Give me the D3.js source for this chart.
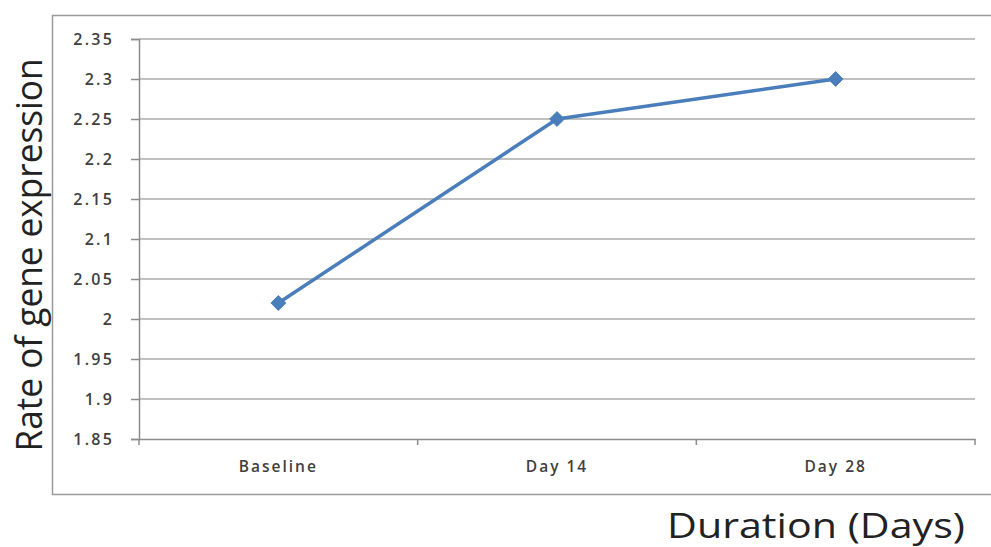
<!DOCTYPE html>
<html>
<head>
<meta charset="utf-8">
<script src="https://cdn.jsdelivr.net/npm/d3@7"></script>
<style>
  html, body { margin: 0; padding: 0; background: #fff; }
  svg { display: block; }
</style>
</head>
<body>
<svg id="chart" width="991" height="547"></svg>
<script>
const categories = ["Baseline", "Day 14", "Day 28"];
const values = [2.02, 2.25, 2.30];
const yTicks = [1.85, 1.9, 1.95, 2, 2.05, 2.1, 2.15, 2.2, 2.25, 2.3, 2.35];
const yTitle = "Rate of gene expression";
const xTitle = "Duration (Days)";

const svg = d3.select("#chart");
const plot = { left: 139, right: 975, top: 39, bottom: 439 };

// outer chart frame
svg.append("rect")
  .attr("x", 52.5).attr("y", 15.5)
  .attr("width", 1000).attr("height", 479)
  .attr("fill", "none").attr("stroke", "#9a9a9a").attr("stroke-width", 1.5);

const x = d3.scaleBand().domain(categories).range([plot.left, plot.right]).padding(0);
const y = d3.scaleLinear().domain([1.85, 2.35]).range([plot.bottom, plot.top]);

// gridlines
svg.append("g").selectAll("line").data(yTicks.slice(1)).join("line")
  .attr("x1", plot.left).attr("x2", plot.right)
  .attr("y1", d => y(d)).attr("y2", d => y(d))
  .attr("stroke", "#c0c0c0").attr("stroke-width", 2.2);

// y axis
const yAxis = svg.append("g").attr("transform", `translate(${plot.left},0)`)
  .call(d3.axisLeft(y).tickValues(yTicks).tickFormat(d => String(d)).tickSize(8).tickPadding(17));
yAxis.select(".domain").attr("stroke", "#8c8c8c").attr("stroke-width", 1.5);
yAxis.selectAll(".tick line").attr("stroke", "#8c8c8c").attr("stroke-width", 1.5);
yAxis.selectAll(".tick text")
  .attr("fill", "#404040").attr("font-family", "'Open Sans', sans-serif")
  .attr("font-size", 16).attr("font-weight", 600).attr("letter-spacing", 2.2);

// x axis
const xAxis = svg.append("g").attr("transform", `translate(0,${plot.bottom})`)
  .call(d3.axisBottom(x).tickSize(0).tickPadding(22));
xAxis.select(".domain").attr("stroke", "#8c8c8c").attr("stroke-width", 1.5);
xAxis.selectAll(".tick text")
  .attr("fill", "#404040").attr("font-family", "'Open Sans', sans-serif")
  .attr("font-size", 15.5).attr("font-weight", 600).attr("letter-spacing", 2);
// category boundary ticks
const bounds = categories.map(c => x(c)).concat([x(categories[categories.length - 1]) + x.bandwidth()]);
svg.append("g").selectAll("line").data(bounds).join("line")
  .attr("x1", d => d).attr("x2", d => d)
  .attr("y1", plot.bottom).attr("y2", plot.bottom + 6)
  .attr("stroke", "#8c8c8c").attr("stroke-width", 1.5);

// line
const pts = categories.map((c, i) => [x(c) + x.bandwidth() / 2, y(values[i])]);
svg.append("path").datum(pts)
  .attr("d", d3.line())
  .attr("fill", "none").attr("stroke", "#4a7ebb").attr("stroke-width", 3.5)
  .attr("stroke-linejoin", "round");

// diamond markers
svg.append("g").selectAll("path").data(pts).join("path")
  .attr("transform", d => `translate(${d[0]},${d[1]})`)
  .attr("d", d3.symbol(d3.symbolDiamond2, 140)())
  .attr("fill", "#4a7ebb").attr("stroke", "#4a7ebb").attr("stroke-width", 1);

// y title
svg.append("text")
  .attr("transform", "translate(42,255) rotate(-90)")
  .attr("text-anchor", "middle")
  .attr("font-family", "'Open Sans', sans-serif")
  .attr("font-size", 37)
  .attr("fill", "#222")
  .attr("textLength", 393).attr("lengthAdjust", "spacingAndGlyphs")
  .text(yTitle);

// x title
svg.append("text")
  .attr("x", 816).attr("y", 538)
  .attr("text-anchor", "middle")
  .attr("font-family", "'Open Sans', sans-serif")
  .attr("font-size", 34)
  .attr("fill", "#222")
  .attr("textLength", 298).attr("lengthAdjust", "spacingAndGlyphs")
  .text(xTitle);
</script>
</body>
</html>
